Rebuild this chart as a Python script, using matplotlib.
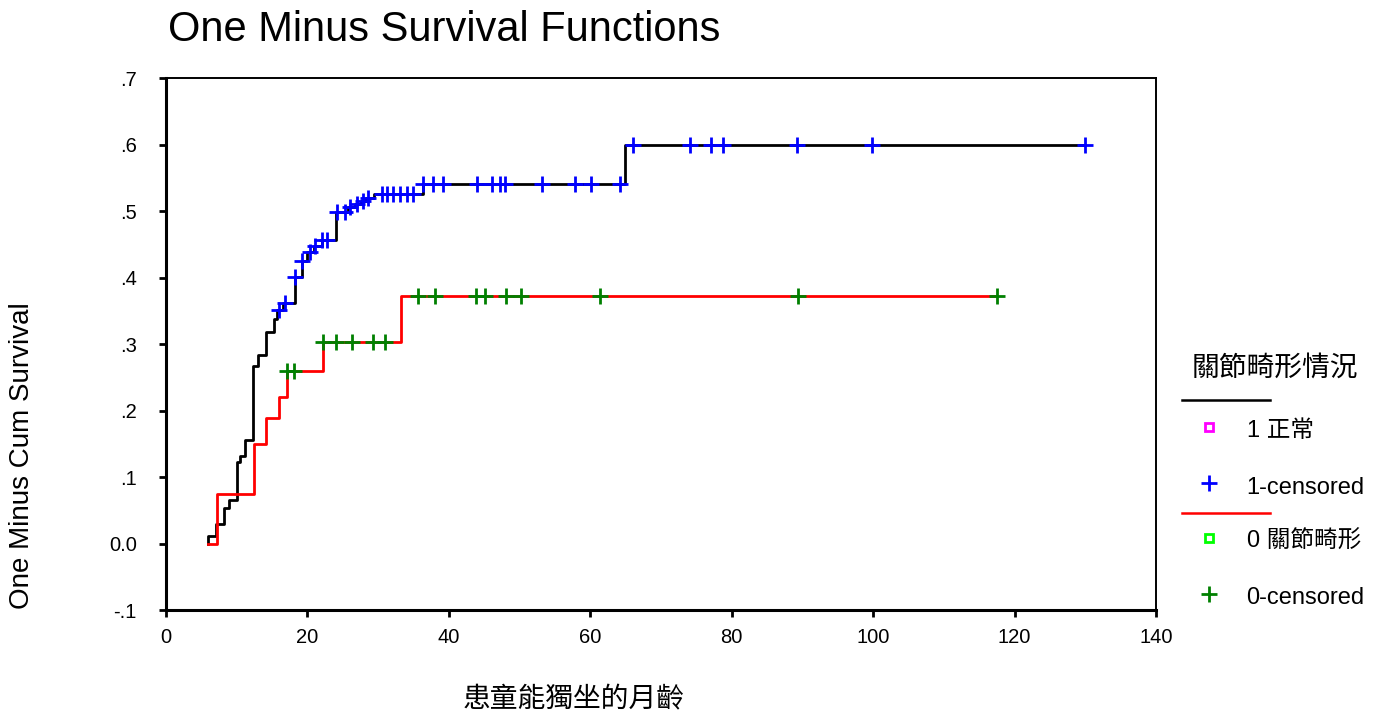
import numpy as np
import matplotlib.pyplot as plt
from matplotlib.lines import Line2D

# Group 1 (正常): event times (months) and one-minus-survival after each event
t_start_1 = 5.9
t_end_1 = 130.0
events_1 = [5.9, 7.1, 8.2, 8.9, 10.0, 10.5, 11.2, 12.3, 13.0, 14.1, 15.3, 15.7,
            16.6, 18.2, 19.3, 20.0, 21.0, 22.0, 24.0, 25.7, 26.7, 27.6, 28.3,
            29.4, 36.3, 64.9]
cum_1 = [0.012, 0.029, 0.053, 0.065, 0.123, 0.132, 0.156, 0.267, 0.284, 0.318,
         0.338, 0.351, 0.362, 0.401, 0.425, 0.438, 0.447, 0.456, 0.498, 0.506,
         0.510, 0.515, 0.520, 0.526, 0.541, 0.599]
censored_1 = [16.0, 16.9, 18.2, 19.3, 20.4, 21.1, 22.1, 22.8, 24.2, 25.3, 26.0,
              27.0, 27.9, 28.6, 30.5, 31.3, 32.1, 33.1, 34.1, 34.9, 36.4, 37.8,
              39.2, 44.0, 46.1, 47.2, 47.9, 53.2, 57.8, 60.1, 64.2, 66.0, 74.1,
              77.1, 78.8, 89.2, 99.8, 130.0]

# Group 0 (關節畸形)
t_start_0 = 6.0
t_end_0 = 117.5
events_0 = [7.2, 12.4, 14.1, 16.0, 17.1, 22.2, 33.2]
cum_0 = [0.074, 0.149, 0.188, 0.221, 0.260, 0.303, 0.372]
censored_0 = [17.1, 18.1, 22.2, 24.0, 26.3, 29.3, 31.0, 35.7, 38.0, 43.9, 45.1,
              48.1, 50.2, 61.4, 89.4, 117.5]

y_ticks = [-0.1, 0.0, 0.1, 0.2, 0.3, 0.4, 0.5, 0.6, 0.7]
y_tick_labels = ['-.1', '0.0', '.1', '.2', '.3', '.4', '.5', '.6', '.7']
x_ticks = [0, 20, 40, 60, 80, 100, 120, 140]


def step_xy(t0, t1, times, vals):
    x = np.r_[t0, times, t1]
    y = np.r_[0.0, vals, vals[-1]]
    return x, y


def level_at(times, vals, t):
    idx = np.searchsorted(times, t, side='right') - 1
    return np.where(idx >= 0, np.asarray(vals)[np.clip(idx, 0, None)], 0.0)


LATIN = 'Liberation Sans'
CJK = 'Noto Sans CJK TC'
MIXED = [LATIN, CJK]

fig = plt.figure(figsize=(13.82, 7.17), dpi=100)
ax = fig.add_axes([0.1201, 0.1492, 0.7164, 0.742])

x1, y1 = step_xy(t_start_1, t_end_1, events_1, cum_1)
x0, y0 = step_xy(t_start_0, t_end_0, events_0, cum_0)
ax.step(x1, y1, where='post', color='black', lw=2, zorder=2)
ax.step(x0, y0, where='post', color='#ff0000', lw=2, zorder=3)

c1 = np.array(censored_1)
c0 = np.array(censored_0)
ax.plot(c1, level_at(events_1, cum_1, c1), ls='none', marker='+', ms=11,
        mew=2, color='#0000ff', zorder=4)
ax.plot(c0, level_at(events_0, cum_0, c0), ls='none', marker='+', ms=11,
        mew=2, color='#008000', zorder=4)

ax.set_xlim(0, 140)
ax.set_ylim(-0.1, 0.7)
ax.set_xticks(x_ticks)
ax.set_yticks(y_ticks)
ax.set_yticklabels(y_tick_labels)
ax.tick_params(axis='both', direction='out', length=5, width=2,
               labelsize=14.5)
ax.tick_params(axis='y', pad=16)
ax.tick_params(axis='x', pad=8)
for lab in ax.get_xticklabels() + ax.get_yticklabels():
    lab.set_family(LATIN)
for side in ['left', 'bottom']:
    ax.spines[side].set_linewidth(2.2)
for side in ['top', 'right']:
    ax.spines[side].set_linewidth(1.4)

fig.text(0.1216, 0.958, 'One Minus Survival Functions', fontsize=30,
         family=LATIN, va='center', ha='left')
fig.text(0.016, 0.365, 'One Minus Cum Survival', fontsize=20, family=LATIN,
         rotation=90, va='center', ha='center')
fig.text(0.415, 0.024, '患童能獨坐的月齡', fontsize=20, family=CJK,
         va='center', ha='center')

# legend, drawn by hand
fig.text(0.9226, 0.487, '關節畸形情況', fontsize=20, family=CJK,
         va='center', ha='center')
fig.add_artist(Line2D([0.855, 0.919], [0.442, 0.442], color='black', lw=1.8))
fig.add_artist(Line2D([0.855, 0.919], [0.284, 0.284], color='#ff0000', lw=1.8))
entries = [
    (0.405, 's', '#ff00ff', '1 正常'),
    (0.326, '+', '#0000ff', '1-censored'),
    (0.250, 's', '#00ff00', '0 關節畸形'),
    (0.172, '+', '#008000', '0-censored'),
]
for y, m, c, label in entries:
    if m == 's':
        fig.add_artist(Line2D([0.875], [y], marker='s', ms=6, mfc='none',
                              mec=c, mew=2, ls='none'))
    else:
        fig.add_artist(Line2D([0.875], [y], marker='+', ms=11, mew=2,
                              color=c, ls='none'))
    fig.text(0.902, y - 0.006, label, fontsize=17, family=MIXED,
             va='center', ha='left')

plt.savefig('out.png', dpi=100)
